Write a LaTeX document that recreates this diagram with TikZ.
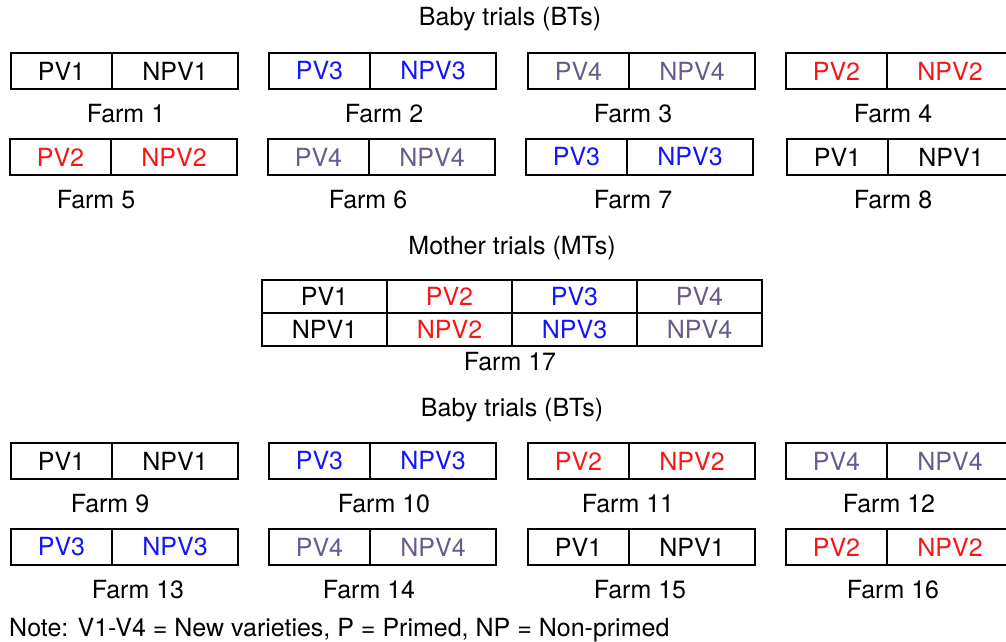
\documentclass[tikz,border=0pt]{standalone}
\usepackage{fontspec}
\setmainfont{TeX Gyre Heros}
\definecolor{vblue}{RGB}{20,20,250}
\definecolor{vred}{RGB}{250,20,20}
\definecolor{vpurple}{RGB}{105,90,140}
\tikzset{
  cellbase/.style={draw=black, line width=2.6pt, rectangle, inner sep=0pt, outer sep=0pt,
    minimum height=36pt, font=\fontsize{25}{30}\selectfont, anchor=north west},
  lcell/.style={cellbase, minimum width=101pt},
  rcell/.style={cellbase, minimum width=126pt},
  mcell/.style={draw=black, line width=2.6pt, rectangle, inner sep=0pt, outer sep=0pt,
    minimum height=33pt, minimum width=125pt, font=\fontsize{25}{30}\selectfont, anchor=north west},
  lbl/.style={inner sep=0pt, font=\fontsize{25}{30}\selectfont}
}
\newcommand\farm[7]{%
  \node[lcell, text=#4] (#1l) at (#2,#3) {PV#5};
  \node[rcell, text=#4] (#1r) at (#1l.north east) {NPV#5};
  \node[lbl] (#1f) at (#7,#3+61) {Farm #6};
}
\begin{document}
\begin{tikzpicture}[x=1pt,y=-1pt]
\useasboundingbox (0,0) rectangle (1006,642);
\node[lbl] (bt1) at (510,19) {Baby trials (BTs)};
% row 1
\farm{fa}{11}{53}{black}{1}{1}{126}
\farm{fb}{269}{53}{vblue}{3}{2}{384}
\farm{fc}{528}{53}{vpurple}{4}{3}{633}
\farm{fd}{786}{53}{vred}{2}{4}{893}
% row 2
\farm{fe}{10}{139}{vred}{2}{5}{96}
\farm{ff}{268}{139}{vpurple}{4}{6}{368}
\farm{fg}{526}{139}{vblue}{3}{7}{633}
\farm{fh}{787}{139}{black}{1}{8}{893}
% mother trials
\node[lbl] (mt) at (512,248) {Mother trials (MTs)};
\node[mcell] (m1) at (262,280) {PV1};
\node[mcell, text=vred] (m2) at (m1.north east) {PV2};
\node[mcell, text=vblue] (m3) at (m2.north east) {PV3};
\node[mcell, text=vpurple] (m4) at (m3.north east) {PV4};
\node[mcell] (n1) at (m1.south west) {NPV1};
\node[mcell, text=vred] (n2) at (n1.north east) {NPV2};
\node[mcell, text=vblue] (n3) at (n2.north east) {NPV3};
\node[mcell, text=vpurple] (n4) at (n3.north east) {NPV4};
\node[lbl] (f17) at (510,362) {Farm 17};
% second baby trials
\node[lbl] (bt2) at (512,410) {Baby trials (BTs)};
\farm{fi}{11}{443}{black}{1}{9}{110}
\farm{fj}{269}{443}{vblue}{3}{10}{384}
\farm{fk}{528}{443}{vred}{2}{11}{628}
\farm{fl}{786}{443}{vpurple}{4}{12}{889}
\farm{fm}{11}{529}{vblue}{3}{13}{138}
\farm{fn}{269}{529}{vpurple}{4}{14}{369}
\farm{fo}{528}{529}{black}{1}{15}{640}
\farm{fp}{786}{529}{vred}{2}{16}{893}
\node[lbl, anchor=west] (note) at (9,630) {Note: V1-V4 = New varieties, P = Primed, NP = Non-primed};
\end{tikzpicture}
\end{document}
